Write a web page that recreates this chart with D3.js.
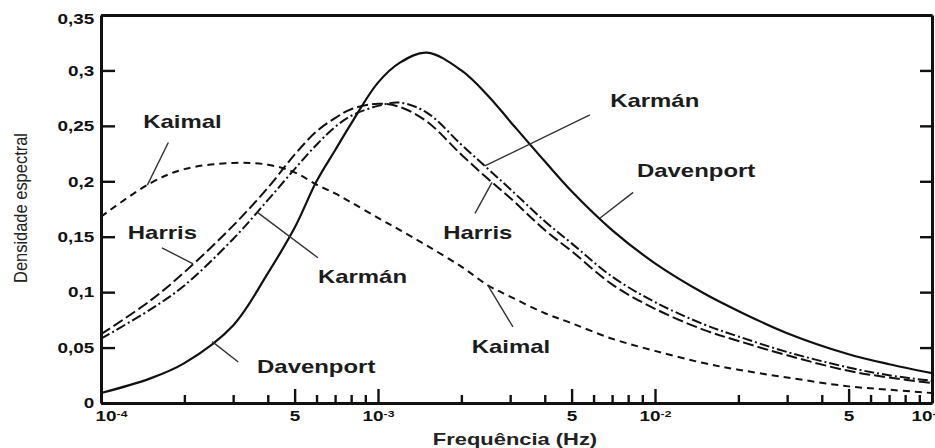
<!DOCTYPE html>
<html>
<head>
<meta charset="utf-8">
<script src="https://cdn.jsdelivr.net/npm/d3@7"></script>
<style>
body{margin:0;background:#fff}
svg{display:block}
text{font-family:"Liberation Sans",Arial,sans-serif}
</style>
</head>
<body>
<svg id="chart" width="935" height="448"></svg>
<script>
// frequencies (Hz) the curves were read at
var freqs=[1e-4,1.5e-4,2e-4,3e-4,4e-4,5e-4,6e-4,7e-4,8e-4,1e-3,1.2e-3,1.5e-3,2e-3,2.5e-3,3e-3,4e-3,5e-3,7e-3,1e-2,1.5e-2,2e-2,3e-2,5e-2,7e-2,1e-1];

// spectral density of each spectrum
var davenport=[0.009,0.022,0.036,0.070,0.117,0.158,0.200,0.228,0.252,0.289,0.307,0.316,0.300,0.277,0.254,0.218,0.191,0.156,0.126,0.099,0.083,0.063,0.044,0.035,0.027];
var kaimal=[0.168,0.198,0.211,0.2165,0.215,0.208,0.197,0.189,0.181,0.167,0.156,0.142,0.123,0.106,0.096,0.081,0.072,0.058,0.047,0.036,0.030,0.023,0.015,0.012,0.009];
var harris=[0.062,0.092,0.118,0.160,0.194,0.224,0.245,0.257,0.265,0.270,0.267,0.254,0.224,0.202,0.185,0.156,0.137,0.107,0.085,0.066,0.056,0.043,0.029,0.023,0.018];
var karman=[0.058,0.084,0.106,0.148,0.183,0.211,0.233,0.249,0.259,0.268,0.271,0.262,0.233,0.211,0.193,0.164,0.144,0.114,0.091,0.071,0.060,0.046,0.032,0.025,0.020];

var yTicks=[0,0.05,0.1,0.15,0.2,0.25,0.3,0.35];
var xMajorTicks=[1e-4,5e-4,1e-3,5e-3,1e-2,5e-2,1e-1];

// curve labels, anchored in data space (frequency, density)
var labelText=["Kaimal","Harris","Karmán","Davenport","Kaimal","Harris","Karmán","Davenport"];
var labelSeries=["kaimal","harris","karman","davenport","kaimal","harris","karman","davenport"];
var labelFreq=[1.42e-4,1.25e-4,6.07e-4,3.66e-4,2.18e-3,1.72e-3,6.89e-3,8.61e-3];
var labelValue=[0.248,0.148,0.108,0.027,0.045,0.148,0.267,0.204];
var leaderCurveFreq=[1.47e-4,2.15e-4,3.66e-4,2.52e-4,2.49e-3,2.58e-3,2.43e-3,6.32e-3];
var leaderEndFreq=[1.75e-4,1.66e-4,6.07e-4,3.13e-4,3.07e-3,2.24e-3,5.82e-3,8.34e-3];
var leaderEndValue=[0.235,0.140,0.131,0.037,0.0686,0.171,0.260,0.190];

var seriesValues={davenport:davenport,kaimal:kaimal,harris:harris,karman:karman};
var seriesDash={davenport:null,kaimal:"7,5",harris:"11,4",karman:"10,3,2,3"};
var seriesWidth={davenport:2.2,kaimal:2,harris:2,karman:2};

var svg=d3.select("#chart");
svg.append("rect").attr("width",935).attr("height",448).attr("fill","#fff");

var x=d3.scaleLog().domain([1e-4,1e-1]).range([101,932]);
var y=d3.scaleLinear().domain([0,0.35]).range([403,15]);

var stretch=1.35; // the original picture is wider than its fonts

svg.append("clipPath").attr("id","plotclip")
	.append("rect").attr("x",101).attr("y",15).attr("width",831).attr("height",388);

// curves
var line=d3.line()
	.x(function(d){return x(d[0]);})
	.y(function(d){return y(d[1]);})
	.curve(d3.curveCatmullRom.alpha(0.5));

var curves=svg.append("g").attr("clip-path","url(#plotclip)");
Object.keys(seriesValues).forEach(function(name){
	var pts=freqs.map(function(f,i){return [f,seriesValues[name][i]];});
	curves.append("path")
		.attr("d",line(pts))
		.attr("fill","none")
		.attr("stroke","#111")
		.attr("stroke-width",seriesWidth[name])
		.attr("stroke-dasharray",seriesDash[name]);
});

// value of a series at f (linear in log f between read points)
function valueAt(name,f){
	var vals=seriesValues[name];
	var lf=Math.log10(f);
	for(var i=0;i<freqs.length-1;i++){
		var a=Math.log10(freqs[i]),b=Math.log10(freqs[i+1]);
		if(lf>=a && lf<=b){
			var t=(lf-a)/(b-a);
			return vals[i]+t*(vals[i+1]-vals[i]);
		}
	}
	return vals[vals.length-1];
}

// leaders and labels
var notes=svg.append("g");
labelText.forEach(function(txt,i){
	var f0=leaderCurveFreq[i];
	notes.append("line")
		.attr("x1",x(f0)).attr("y1",y(valueAt(labelSeries[i],f0)))
		.attr("x2",x(leaderEndFreq[i])).attr("y2",y(leaderEndValue[i]))
		.attr("stroke","#333").attr("stroke-width",1.4);
	notes.append("text")
		.attr("transform","translate("+x(labelFreq[i])+","+y(labelValue[i])+") scale(1.33,1)")
		.attr("font-size",18).attr("font-weight","bold").attr("fill","#1c1c1c")
		.text(txt);
});

// x axis: major ticks with labels
var xMajor=d3.axisBottom(x).tickValues(xMajorTicks).tickSizeInner(-14).tickSizeOuter(0).tickPadding(8).tickFormat("");
var gx=svg.append("g").attr("transform","translate(0,403)").call(xMajor);
gx.selectAll(".tick text").each(function(d,i,nodes){
	// first and last labels sit inside the frame
	var shift=i===0?10:(i===nodes.length-1?-5:0);
	var t=d3.select(this).attr("transform","translate("+shift+",0) scale("+stretch+",1)")
		.attr("font-size",14).attr("font-weight","bold").attr("fill","#111");
	var e=Math.round(Math.log10(d));
	if(Math.abs(d-Math.pow(10,e))<1e-12){
		t.append("tspan").text("10");
		t.append("tspan").attr("font-size",9).attr("dy","-0.45em").text("-"+Math.abs(e));
	} else {
		t.append("tspan").text(String(Math.round(d/Math.pow(10,Math.floor(Math.log10(d))))));
	}
});

// x axis: minor ticks
var xMinorTicks=[];
[1e-4,1e-3,1e-2].forEach(function(dec){
	[2,3,4,6,7,8,9].forEach(function(m){xMinorTicks.push(dec*m);});
});
svg.append("g").attr("transform","translate(0,403)")
	.call(d3.axisBottom(x).tickValues(xMinorTicks).tickSizeInner(-8).tickSizeOuter(0).tickFormat(""))
	.call(function(g){g.select(".domain").remove();});

// y axis left
var yAxis=d3.axisLeft(y).tickValues(yTicks).tickSizeInner(-14).tickSizeOuter(0).tickPadding(5)
	.tickFormat(function(d){return d===0?"0":String(+d.toFixed(2)).replace(".",",");});
var gy=svg.append("g").attr("transform","translate(101,0)").call(yAxis);
gy.selectAll(".tick text")
	.attr("transform","scale("+stretch+",1)")
	.attr("font-size",14).attr("font-weight","bold").attr("fill","#111")
	.attr("dy",function(d){return d===0.35?"0.62em":"0.34em";});

// y axis right (ticks only)
svg.append("g").attr("transform","translate(932,0)")
	.call(d3.axisRight(y).tickValues(yTicks.slice(1,7)).tickSizeInner(-12).tickSizeOuter(0).tickFormat(""));

// top border
svg.append("g").attr("transform","translate(0,15)")
	.call(d3.axisTop(x).tickValues([]).tickSizeOuter(0));

svg.selectAll(".domain").attr("stroke","#111").attr("stroke-width",3);
svg.selectAll(".tick line").attr("stroke","#111").attr("stroke-width",2.4);

// axis titles
svg.append("text")
	.attr("transform","translate(515,445) scale(1.37,1)")
	.attr("text-anchor","middle").attr("font-size",16).attr("font-weight","bold").attr("fill","#222")
	.text("Frequência (Hz)");

svg.append("text")
	.attr("transform","translate(27,208) rotate(-90)")
	.attr("text-anchor","middle").attr("font-size",19).attr("fill","#222")
	.attr("textLength",150).attr("lengthAdjust","spacingAndGlyphs")
	.text("Densidade espectral");
</script>
</body>
</html>
